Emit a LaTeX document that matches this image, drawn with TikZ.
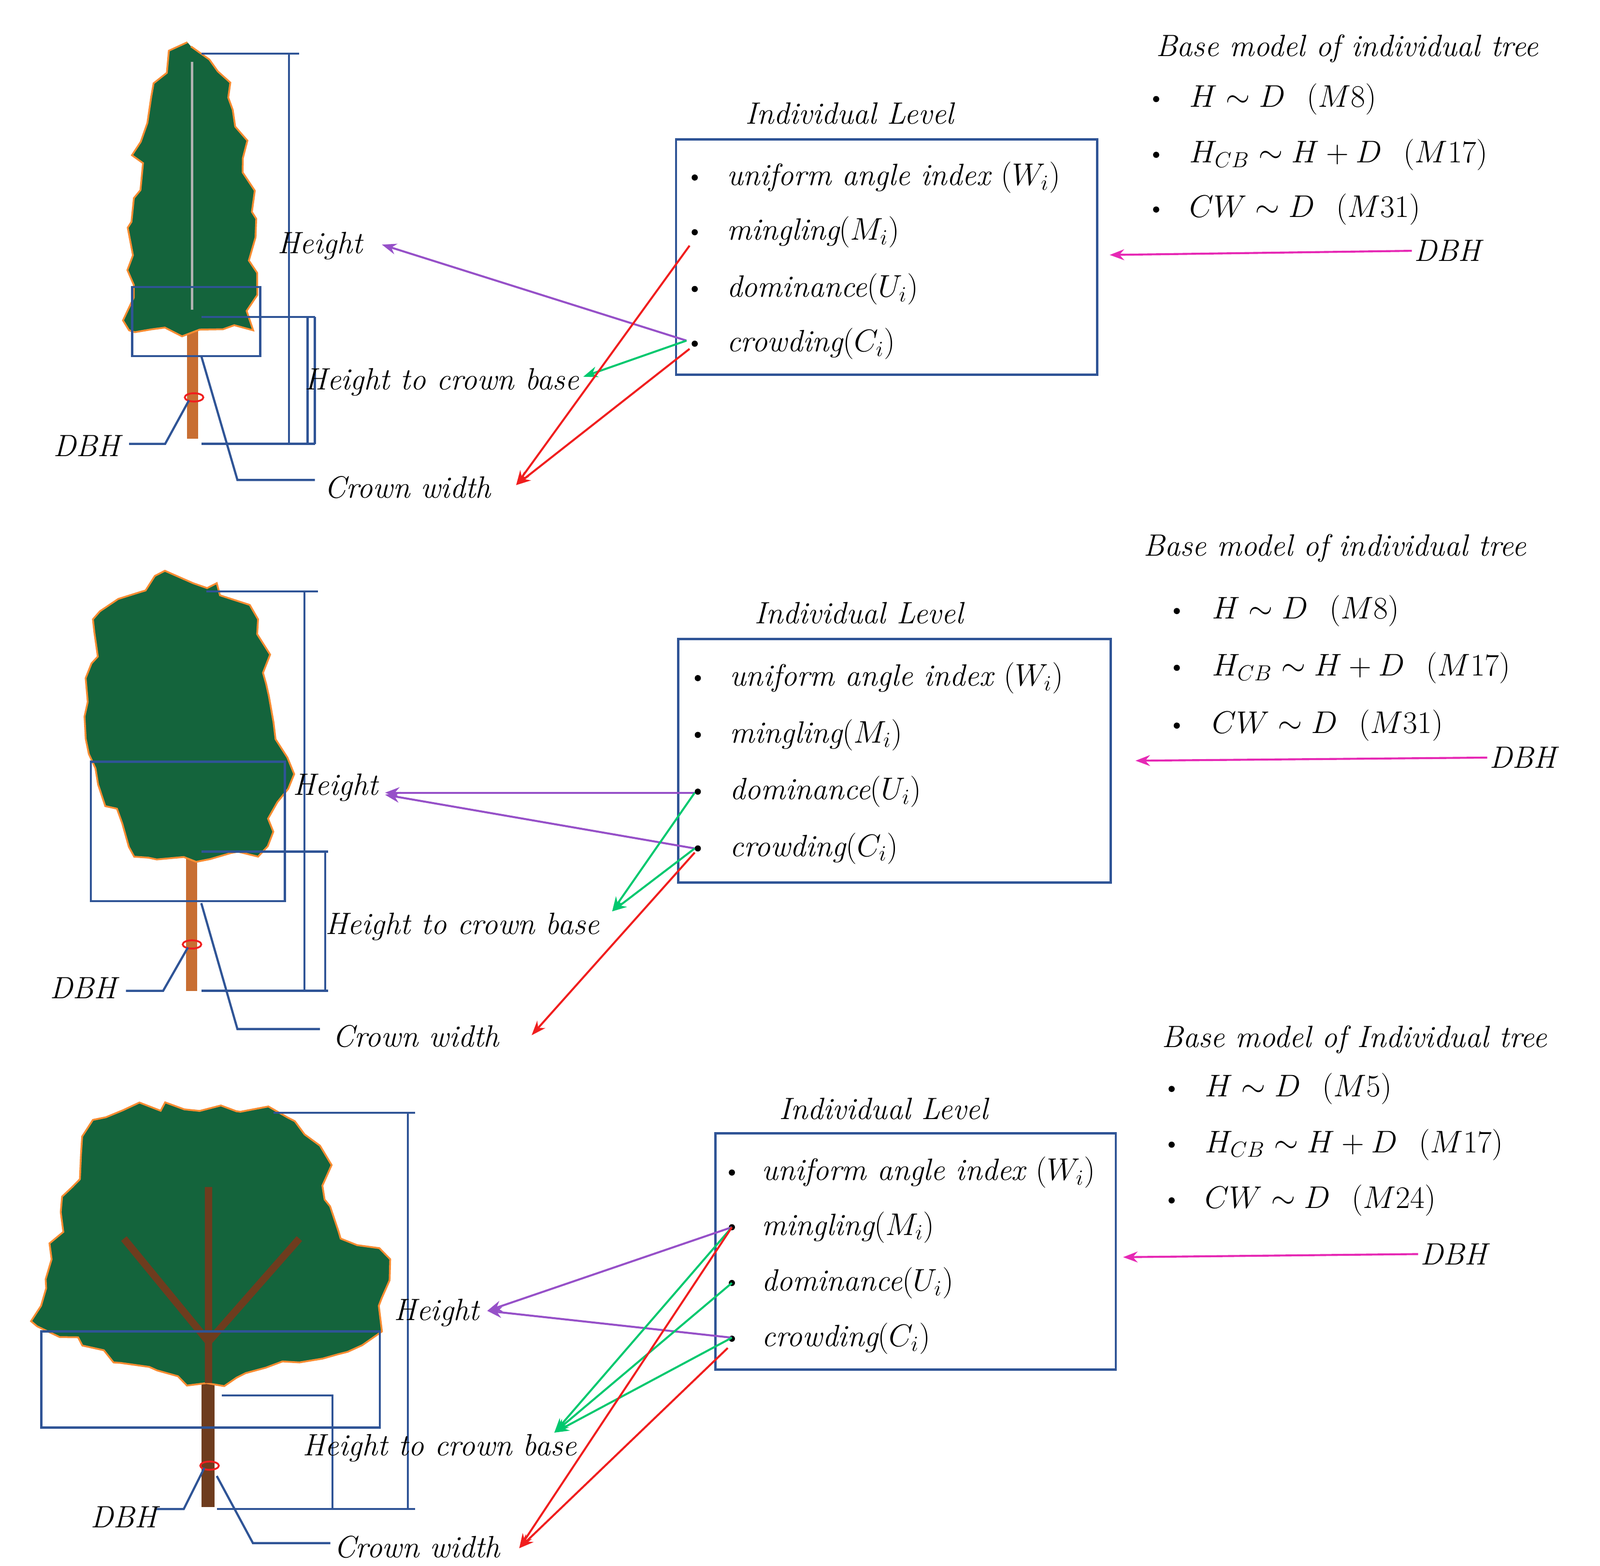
\documentclass[tikz,border=0pt]{standalone}
\usetikzlibrary{decorations.pathmorphing,arrows.meta}
\definecolor{bx}{RGB}{47,84,150}
\definecolor{pu}{RGB}{150,80,200}
\definecolor{gr}{RGB}{0,200,110}
\definecolor{rd}{RGB}{240,30,30}
\definecolor{pk}{RGB}{230,40,180}
\definecolor{lf}{RGB}{20,100,60}
\definecolor{ol}{RGB}{250,140,50}
\definecolor{tr}{RGB}{200,110,50}
\definecolor{trd}{RGB}{110,60,30}
\begin{document}
\begin{tikzpicture}[x=0.02cm,y=-0.02cm,
 t/.style={font=\fontsize{17}{20}\selectfont\itshape,inner sep=1pt},
 box/.style={draw=bx,line width=1.2pt},
 br/.style={draw=bx,line width=1.2pt},
 crown/.style={draw=ol,line width=1pt,fill=lf,decorate,decoration={random steps,segment length=9pt,amplitude=4pt}},
 trunk/.style={fill=tr,draw=none},
 ar/.style={line width=1.1pt,-{Stealth[length=8pt]}},
 bul/.style={circle,fill=black,inner sep=1.2pt}]
\useasboundingbox (0,0) rectangle (1550,1517);
% ---------- Panel 1
\fill[trunk] (181,290) rectangle (192,425);
\draw[crown] (185,45) .. controls (230,60) and (250,200) .. (245,320) -- (125,320) .. controls (120,200) and (140,60) .. (185,45);
\draw[gray!60,line width=1.5pt] (186,60) -- (186,300);
\draw[rd,line width=1pt] (188,385) ellipse (9 and 4);
\draw[br] (195,52) -- (290,52) (280,52) -- (280,430) (195,430) -- (305,430);
\draw[br] (128,278) rectangle (252,345);
\draw[br] (195,307) -- (305,307) (298,307) -- (298,430) (305,307) -- (305,430);
\draw[br] (125,430) -- (160,430) -- (183,388);
\draw[br] (195,345) -- (230,465) -- (305,465);
\node[t,anchor=east] (dbh1) at (118,432) {DBH};
\node[t] (h1) at (310,238) {Height};
\node[t] (hcb1) at (428,370) {Height to crown base};
\node[t] (cw1) at (395,472) {Crown width};
\node[box,minimum width=408*0.02cm,minimum height=228*0.02cm] (b1) at (859,249) {};
\node[t] at (823,110) {Individual Level};
\foreach \y/\s in {172/{uniform angle index $(W_i)$},225/{mingling$(M_i)$},280/{dominance$(U_i)$},333/{crowding$(C_i)$}}{
 \node[bul] at (673,\y) {}; \node[t,anchor=west] at (702,\y) {\s};}
\coordinate (p1) at (665,330); \coordinate (r1) at (668,238); \coordinate (r1b) at (668,338);
\draw[ar,pu] (p1) -- (370,237);
\draw[ar,gr] (p1) -- (565,365);
\draw[ar,rd] (r1) -- (500,470);
\draw[ar,rd] (r1b) -- (500,470);
\node[t] at (1305,47) {Base model of individual tree};
\foreach \y/\s in {96/{$H\sim D$ \ $(M8)$},150/{$H_{CB}\sim H+D$ \ $(M17)$},203/{$CW\sim D$ \ $(M31)$}}{
 \node[bul] at (1120,\y) {}; \node[t,anchor=west] at (1150,\y) {\s};}
\node[t] (d1) at (1402,243) {DBH};
\draw[ar,pk] (d1.west) -- (1075,247);
% ---------- Panel 2
\fill[trunk] (180,800) rectangle (191,960);
\draw[crown] (150,558) -- (210,565) -- (250,600) -- (265,700) -- (285,750) -- (250,830) -- (190,835) -- (130,830) -- (95,760) -- (85,680) -- (90,600) -- cycle;
\draw[rd,line width=1pt] (186,915) ellipse (9 and 4);
\draw[br] (200,573) -- (308,573) (295,573) -- (295,960) (195,960) -- (318,960);
\draw[br] (88,738) rectangle (276,873);
\draw[br] (195,825) -- (318,825) (315,825) -- (315,960);
\draw[br] (122,960) -- (158,960) -- (182,918);
\draw[br] (195,875) -- (230,997) -- (310,997);
\node[t,anchor=east] (dbh2) at (115,957) {DBH};
\node[t] (h2) at (325,763) {Height};
\node[t] (hcb2) at (448,898) {Height to crown base};
\node[t] (cw2) at (403,1004) {Crown width};
\node[box,minimum width=419*0.02cm,minimum height=236*0.02cm] (b2) at (866.5,737) {};
\node[t] at (832,594) {Individual Level};
\foreach \y/\s in {657/{uniform angle index $(W_i)$},712/{mingling$(M_i)$},767/{dominance$(U_i)$},822/{crowding$(C_i)$}}{
 \node[bul] at (676,\y) {}; \node[t,anchor=west] at (705,\y) {\s};}
\coordinate (u2) at (673,768); \coordinate (c2) at (673,822);
\draw[ar,pu] (u2) -- (373,768);
\draw[ar,pu] (c2) -- (373,770);
\draw[ar,gr] (u2) -- (593,883);
\draw[ar,gr] (c2) -- (593,883);
\draw[ar,rd] (673,826) -- (515,1003);
\node[t] at (1293,531) {Base model of individual tree};
\foreach \y/\s in {592/{$H\sim D$ \ $(M8)$},647/{$H_{CB}\sim H+D$ \ $(M17)$},703/{$CW\sim D$ \ $(M31)$}}{
 \node[bul] at (1140,\y) {}; \node[t,anchor=west] at (1172,\y) {\s};}
\node[t] (d2) at (1475,734) {DBH};
\draw[ar,pk] (d2.west) -- (1100,737);
% ---------- Panel 3
\fill[trd] (195,1330) rectangle (208,1460);
\draw[crown] (90,1085) -- (160,1068) -- (260,1072) -- (310,1110) -- (330,1200) -- (378,1220) -- (370,1290) -- (290,1320) -- (200,1340) -- (110,1320) -- (30,1280) -- (50,1220) -- (70,1150) -- cycle;
\draw[trd,line width=4pt] (202,1340) -- (202,1150) (202,1300) -- (120,1200) (202,1300) -- (290,1200);
\draw[rd,line width=1pt] (203,1420) ellipse (9 and 4);
\draw[br] (265,1078) -- (402,1078) (395,1078) -- (395,1462) (210,1462) -- (402,1462);
\draw[br] (40,1290) rectangle (368,1383);
\draw[br] (215,1352) -- (323,1352) (322,1352) -- (322,1462);
\draw[br] (150,1462) -- (178,1462) -- (198,1422);
\draw[br] (210,1430) -- (245,1495) -- (320,1495);
\node[t] (dbh3) at (120,1470) {DBH};
\node[t] (h3) at (423,1272) {Height};
\node[t] (hcb3) at (426,1403) {Height to crown base};
\node[t] (cw3) at (404,1499) {Crown width};
\node[box,minimum width=388*0.02cm,minimum height=229*0.02cm] (b3) at (887,1212.5) {};
\node[t] at (856,1074) {Individual Level};
\foreach \y/\s in {1136/{uniform angle index $(W_i)$},1189/{mingling$(M_i)$},1243/{dominance$(U_i)$},1297/{crowding$(C_i)$}}{
 \node[bul] at (709,\y) {}; \node[t,anchor=west] at (736,\y) {\s};}
\coordinate (m3) at (709,1189); \coordinate (u3) at (709,1243); \coordinate (c3) at (709,1296);
\draw[ar,pu] (m3) -- (472,1270);
\draw[ar,pu] (c3) -- (472,1270);
\draw[ar,gr] (m3) -- (537,1388);
\draw[ar,gr] (u3) -- (537,1388);
\draw[ar,gr] (c3) -- (537,1388);
\draw[ar,rd] (m3) -- (503,1500);
\draw[ar,rd] (705,1306) -- (503,1500);
\node[t] at (1312,1007) {Base model of Individual tree};
\foreach \y/\s in {1055/{$H\sim D$ \ $(M5)$},1109/{$H_{CB}\sim H+D$ \ $(M17)$},1163/{$CW\sim D$ \ $(M24)$}}{
 \node[bul] at (1135,\y) {}; \node[t,anchor=west] at (1165,\y) {\s};}
\node[t] (d3) at (1408,1215) {DBH};
\draw[ar,pk] (d3.west) -- (1088,1218);
\end{tikzpicture}
\end{document}
